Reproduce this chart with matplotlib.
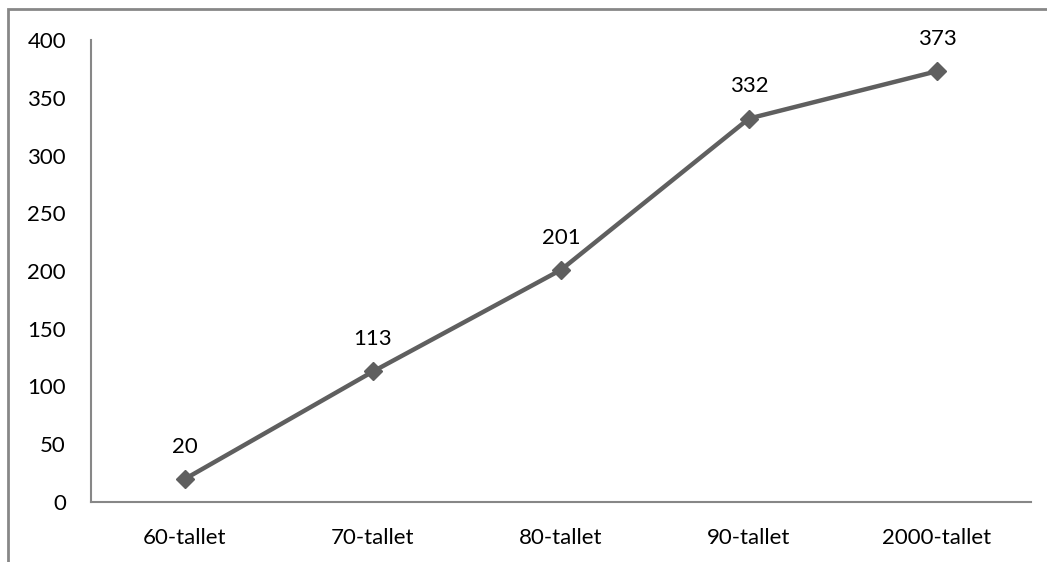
import matplotlib.pyplot as plt
from matplotlib.patches import Rectangle

categories = ["60-tallet", "70-tallet", "80-tallet", "90-tallet", "2000-tallet"]
values = [20, 113, 201, 332, 373]

plt.rcParams['font.family'] = ['Lato', 'DejaVu Sans']

fig = plt.figure(figsize=(10.47, 5.62), dpi=100)
ax = fig.add_axes([91 / 1047, 60 / 562, 940 / 1047, 462 / 562])

x = range(len(categories))
ax.plot(x, values, color="#5f5f5f", linewidth=3.2, marker="D", markersize=9)
for xi, v in zip(x, values):
    ax.annotate(str(v), (xi, v), xytext=(0, 16), textcoords="offset points",
                ha="center", va="bottom", fontsize=16)

ax.set_xlim(-0.5, len(categories) - 0.5)
ax.set_ylim(0, 400)
ax.set_yticks(range(0, 401, 50))
ax.set_xticks(list(x))
ax.set_xticklabels(categories)
ax.tick_params(length=0, labelsize=16)
ax.tick_params(axis="y", pad=18)
ax.tick_params(axis="x", pad=19)
for s in ["top", "right"]:
    ax.spines[s].set_visible(False)
for s in ["left", "bottom"]:
    ax.spines[s].set_color("#878787")
    ax.spines[s].set_linewidth(1.5)

# outer chart frame (cut off at right and bottom)
fig.patches.append(Rectangle((8 / 1047, -0.1), 1.2, 1 - 9 / 562 + 0.1,
                             transform=fig.transFigure, fill=False,
                             edgecolor="#878787", linewidth=2))

fig.savefig("out.png", dpi=100)
